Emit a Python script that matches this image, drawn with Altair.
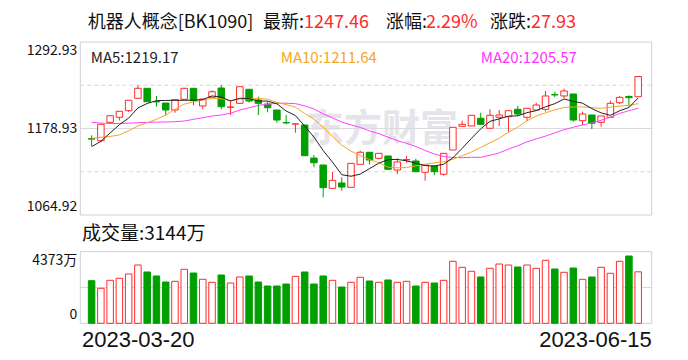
import altair as alt
import pandas as pd

# ---------------- data ----------------
opens = [1165.5, 1162.8, 1187.1, 1193.7, 1202.4, 1218.7, 1231.9, 1214.5, 1212.5, 1203.3,
         1217.4, 1231.9, 1208.6, 1220.0, 1232.3, 1206.9, 1212.1, 1230.6, 1216.5, 1211.2,
         1203.3, 1186.8, 1184.8, 1183.5, 1140.0, 1130.8, 1100.1, 1107.1, 1101.4, 1131.7,
         1147.6, 1139.6, 1142.7, 1124.2, 1137.6, 1136.1, 1121.2, 1129.5, 1118.6, 1150.6,
         1181.8, 1182.2, 1192.4, 1179.2, 1193.7, 1194.5, 1204.2, 1193.7, 1203.3, 1204.2,
         1223.6, 1221.8, 1224.4, 1189.2, 1196.7, 1187.1, 1193.7, 1212.9, 1221.1, 1220.8]
highs = [1169.9, 1184.5, 1195.8, 1201.6, 1216.1, 1235.9, 1231.9, 1221.8, 1212.5, 1216.9,
         1231.9, 1231.9, 1217.8, 1229.3, 1236.3, 1216.5, 1234.0, 1230.6, 1220.8, 1214.2,
         1203.3, 1196.7, 1185.2, 1183.5, 1144.0, 1130.8, 1121.6, 1114.6, 1133.0, 1149.7,
         1147.6, 1146.2, 1142.7, 1139.6, 1142.7, 1139.1, 1130.8, 1129.5, 1146.2, 1180.5,
         1189.2, 1196.3, 1199.7, 1204.2, 1203.3, 1202.4, 1208.6, 1205.5, 1212.9, 1228.4,
         1227.4, 1231.4, 1224.4, 1201.1, 1196.7, 1195.4, 1215.6, 1221.8, 1222.7, 1247.46]
lows = [1155.9, 1160.7, 1184.9, 1189.7, 1200.7, 1218.7, 1214.2, 1207.7, 1196.3, 1199.7,
        1217.4, 1209.5, 1204.2, 1219.0, 1204.2, 1196.7, 1211.5, 1213.0, 1196.7, 1200.3,
        1186.6, 1184.4, 1173.4, 1143.1, 1127.8, 1088.2, 1100.1, 1096.9, 1101.4, 1131.7,
        1131.7, 1138.3, 1125.1, 1118.9, 1133.8, 1122.0, 1110.1, 1117.6, 1116.7, 1150.6,
        1181.8, 1182.2, 1184.4, 1179.2, 1182.2, 1174.7, 1195.4, 1188.8, 1203.3, 1201.1,
        1220.0, 1218.7, 1187.9, 1183.5, 1178.3, 1181.3, 1193.7, 1211.2, 1207.7, 1220.8]
closes = [1165.0, 1184.5, 1195.8, 1201.6, 1216.1, 1231.9, 1214.2, 1214.0, 1203.3, 1216.9,
          1231.9, 1215.6, 1217.8, 1227.4, 1207.7, 1207.2, 1234.0, 1215.2, 1212.1, 1206.3,
          1190.1, 1186.3, 1185.0, 1143.1, 1133.8, 1100.9, 1110.6, 1101.8, 1133.0, 1147.6,
          1137.4, 1146.2, 1125.1, 1134.8, 1138.0, 1122.0, 1130.8, 1122.0, 1146.2, 1180.5,
          1184.4, 1196.3, 1184.4, 1196.3, 1196.7, 1202.4, 1198.0, 1205.5, 1209.9, 1221.8,
          1223.2, 1228.4, 1190.1, 1198.0, 1185.8, 1195.4, 1212.1, 1220.0, 1219.53, 1247.46]
volumes = [2602, 2137, 2626, 2748, 3011, 3560, 3133, 2889, 2522, 2565,
           3298, 3072, 2687, 2504, 2950, 2461, 2828, 2889, 2522, 2278,
           2278, 2400, 2870, 3133, 2400, 2889, 2626, 2217, 2504, 2809,
           2583, 2504, 2646, 2504, 2565, 2278, 2504, 2461, 2626, 3786,
           3420, 3176, 2828, 3359, 3621, 3560, 3438, 3560, 3359, 3847,
           3316, 3115, 3377, 2687, 2828, 3420, 3054, 3786, 4110, 3144]
ma5 = [1155.0, 1162.0, 1173.0, 1184.0, 1192.6, 1206.0, 1211.9, 1215.6, 1215.9, 1216.1,
       1216.1, 1216.3, 1217.1, 1221.9, 1220.1, 1215.1, 1218.8, 1218.3, 1215.2, 1215.0,
       1211.5, 1202.0, 1196.0, 1182.2, 1167.7, 1149.8, 1134.7, 1118.0, 1116.0, 1118.8,
       1126.1, 1133.2, 1137.9, 1138.2, 1136.3, 1133.2, 1130.1, 1129.5, 1131.8, 1140.3,
       1152.8, 1165.9, 1178.4, 1188.4, 1191.6, 1195.2, 1195.6, 1199.8, 1202.5, 1207.5,
       1211.7, 1217.8, 1214.7, 1212.3, 1205.1, 1199.5, 1196.3, 1202.3, 1206.6, 1219.17]
ma10 = [1166.0, 1167.3, 1168.5, 1170.4, 1176.0, 1182.2, 1186.6, 1191.0, 1196.7, 1204.3,
        1211.0, 1214.1, 1216.3, 1218.9, 1218.1, 1215.6, 1217.6, 1217.7, 1218.6, 1217.5,
        1213.3, 1210.4, 1207.1, 1198.7, 1191.3, 1180.7, 1168.3, 1157.0, 1149.1, 1143.2,
        1138.0, 1133.9, 1128.0, 1127.1, 1127.5, 1129.7, 1131.7, 1133.7, 1135.0, 1138.3,
        1143.0, 1148.0, 1153.9, 1160.1, 1166.0, 1174.0, 1180.7, 1189.1, 1195.4, 1199.6,
        1203.5, 1206.7, 1207.2, 1207.4, 1206.3, 1205.6, 1207.0, 1208.5, 1209.4, 1211.64]
ma20 = [1187.1, 1186.0, 1185.5, 1185.5, 1186.0, 1186.5, 1187.0, 1187.3, 1187.5, 1187.9,
        1188.8, 1191.0, 1193.2, 1195.4, 1196.7, 1199.0, 1203.3, 1206.3, 1209.5, 1210.9,
        1212.2, 1212.3, 1211.7, 1208.8, 1204.7, 1198.1, 1193.0, 1187.4, 1183.8, 1180.4,
        1175.6, 1172.2, 1167.5, 1162.9, 1159.4, 1155.2, 1150.0, 1145.3, 1142.1, 1140.8,
        1140.5, 1141.0, 1140.9, 1143.6, 1146.8, 1151.8, 1156.2, 1161.4, 1165.2, 1168.9,
        1173.2, 1177.3, 1180.6, 1183.7, 1186.1, 1189.8, 1193.9, 1198.8, 1202.4, 1205.57]

price_ticks = [1292.93, 1178.93, 1064.92]
price_grid_dashed = [1235.93, 1121.93]
vol_top = 4373
first_date, last_date = "2023-03-20", "2023-06-15"

# ---------------- styling / layout (whole 672x344 view used as plot area) ----------------
RED = "#ff2a2a"
GREEN = "#009f00"
FONT = "Noto Sans CJK SC"
LATIN = "Liberation Sans"
GRID = "#d9d9de"
FRAME = "#cfcfd8"
W, H = 672, 344
L, R = 72.3, 643.7          # panel left / right
PT, PB = 34.0, 207.0        # price panel top / bottom
VT, VB = 243.7, 315.3       # volume panel top / bottom

n = len(closes)
df = pd.DataFrame({
    "idx": list(range(n)), "open": opens, "high": highs, "low": lows, "close": closes,
    "vol": volumes, "ma5": ma5, "ma10": ma10, "ma20": ma20,
})
df["dir"] = ["up" if c >= o else "down" for o, c in zip(opens, closes)]
df["zero"] = 0

xs = alt.Scale(domain=[-0.68, 59.92], range=[L, R], nice=False, zero=False)
ps = alt.Scale(domain=[price_ticks[2], price_ticks[0]], range=[PB, PT], nice=False, zero=False)
vs = alt.Scale(domain=[0, vol_top], range=[VB, VT], nice=False, zero=False)
X = alt.X("idx:Q", scale=xs, axis=None)
stroke_enc = alt.Stroke("dir:N", scale=alt.Scale(domain=["up", "down"], range=[RED, GREEN]), legend=None)
fill_enc = alt.Fill("dir:N", scale=alt.Scale(domain=["up", "down"], range=["#ffffff", GREEN]), legend=None)

base = alt.Chart(df)


def txt(s, x, y, color="#111", size=14, align="left", baseline="middle", weight="normal", font=FONT):
    return alt.Chart(pd.DataFrame({"t": [s]})).mark_text(
        align=align, baseline=baseline, fontSize=size, font=font, color=color, fontWeight=weight
    ).encode(x=alt.value(x), y=alt.value(y), text="t:N")


# watermark
watermark = txt("东方财富", 298, 122, color="#e4e4ea", size=38, weight="bold")

# price frame and grid
pframe = alt.Chart(pd.DataFrame({"a": [price_ticks[0]], "b": [price_ticks[2]]})).mark_rect(
    fill="transparent", stroke=FRAME, strokeWidth=1
).encode(x=alt.value(L), x2=alt.value(R), y=alt.Y("a:Q", scale=ps, axis=None), y2="b:Q")
pdash = alt.Chart(pd.DataFrame({"v": price_grid_dashed})).mark_rule(
    color=GRID, strokeDash=[4, 3], strokeWidth=1
).encode(y=alt.Y("v:Q", scale=ps, axis=None), x=alt.value(L), x2=alt.value(R))
pmid = alt.Chart(pd.DataFrame({"v": [price_ticks[1]]})).mark_rule(color=GRID, strokeWidth=1).encode(
    y=alt.Y("v:Q", scale=ps, axis=None), x=alt.value(L), x2=alt.value(R))

wicks = base.mark_rule(strokeWidth=1).encode(
    x=X, y=alt.Y("low:Q", scale=ps, axis=None), y2="high:Q", stroke=stroke_enc)
bodies = base.mark_bar(size=6.5, strokeWidth=1).encode(
    x=X, y=alt.Y("open:Q", scale=ps, axis=None), y2="close:Q", fill=fill_enc, stroke=stroke_enc)

l5 = base.mark_line(color="#222222", strokeWidth=1).encode(x=X, y=alt.Y("ma5:Q", scale=ps, axis=None))
l10 = base.mark_line(color="#f5a623", strokeWidth=1).encode(x=X, y=alt.Y("ma10:Q", scale=ps, axis=None))
l20 = base.mark_line(color="#ff40ff", strokeWidth=1).encode(x=X, y=alt.Y("ma20:Q", scale=ps, axis=None))

# volume panel
vframe = alt.Chart(pd.DataFrame({"a": [vol_top], "b": [0]})).mark_rect(
    fill="transparent", stroke=FRAME, strokeWidth=1
).encode(x=alt.value(L), x2=alt.value(R), y=alt.Y("a:Q", scale=vs, axis=None), y2="b:Q")
vmid = alt.Chart(pd.DataFrame({"v": [vol_top / 2]})).mark_rule(color=GRID, strokeWidth=1).encode(
    y=alt.Y("v:Q", scale=vs, axis=None), x=alt.value(L), x2=alt.value(R))
vbars = base.mark_bar(size=6.5, strokeWidth=1).encode(
    x=X, y=alt.Y("vol:Q", scale=vs, axis=None), y2="zero:Q", fill=fill_enc, stroke=stroke_enc)


def plabel(v, baseline, dy):
    return alt.Chart(pd.DataFrame({"v": [v], "t": [f"{v:.2f}"]})).mark_text(
        align="right", baseline=baseline, dy=dy, fontSize=14, font=FONT, color="#111"
    ).encode(y=alt.Y("v:Q", scale=ps, axis=None), x=alt.value(L - 3), text="t:N")


def vlabel(v, s, baseline, dy):
    return alt.Chart(pd.DataFrame({"v": [v], "t": [s]})).mark_text(
        align="right", baseline=baseline, dy=dy, fontSize=14, font=FONT, color="#111"
    ).encode(y=alt.Y("v:Q", scale=vs, axis=None), x=alt.value(L - 3), text="t:N")


TY = 15
labels = [
    plabel(price_ticks[0], "top", 2), plabel(price_ticks[1], "middle", 1), plabel(price_ticks[2], "bottom", -1),
    vlabel(vol_top, f"{vol_top}万", "top", 2), vlabel(0, "0", "bottom", -1),
    txt(first_date, 74, 339.3, size=22, color="#111", baseline="alphabetic", font=LATIN),
    txt(last_date, R, 339.3, size=22, align="right", color="#111", baseline="alphabetic", font=LATIN),
    txt(f"MA5:{ma5[-1]:.2f}", 82.7, 49.5, color="#222222", size=15),
    txt(f"MA10:{ma10[-1]:.2f}", 272.7, 49.5, color="#f5a623", size=15),
    txt(f"MA20:{ma20[-1]:.2f}", 472.7, 49.5, color="#ff33ff", size=15),
    txt(f"成交量:{volumes[-1]}万", 74, 226, size=19, color="#111"),
    # title segments
    txt("机器人概念[BK1090]", 79.7, TY, size=18, color="#111"),
    txt("最新:", 255, TY, size=18, color="#111"),
    txt(f"{closes[-1]:.2f}", 296, TY, size=18, color=RED),
    txt("涨幅:", 378, TY, size=18, color="#111"),
    txt("2.29%", 418, TY, size=18, color=RED),
    txt("涨跌:", 482, TY, size=18, color="#111"),
    txt("27.93", 523, TY, size=18, color=RED),
]

chart = alt.layer(
    watermark, pdash, pmid, pframe, wicks, bodies, l20, l10, l5,
    vmid, vframe, vbars, *labels
).resolve_scale(y="independent").properties(
    width=W, height=H,
    padding=0,
    autosize=alt.AutoSizeParams(type="none"),
    background="white",
).configure_view(strokeWidth=0)

chart.save("out.html", embed_options={"renderer": "svg", "actions": False})
